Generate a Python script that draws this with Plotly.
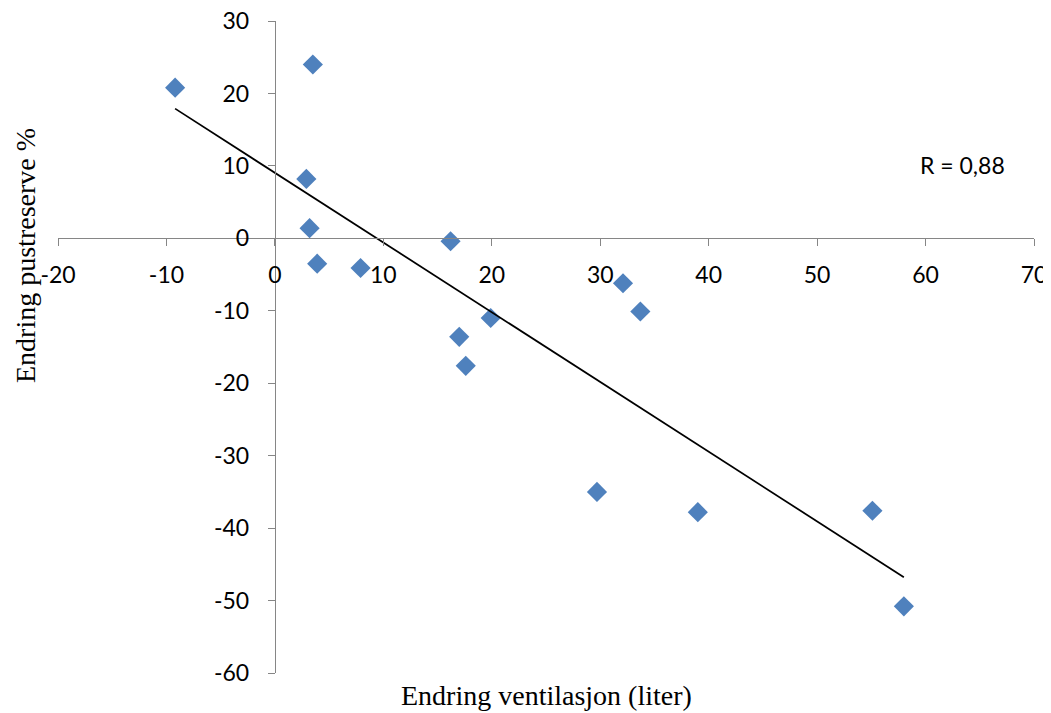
import numpy as np
import plotly.graph_objects as go

# Data
ventilasjon = [-9.2, 3.5, 2.9, 3.2, 3.9, 7.9, 16.2, 17.0, 17.6, 19.9, 29.7, 32.1, 33.7, 39.0, 55.1, 58.0]
pustreserve = [20.8, 24.0, 8.2, 1.4, -3.5, -4.1, -0.4, -13.6, -17.6, -11.0, -35.0, -6.2, -10.1, -37.8, -37.6, -50.8]
x_ticks = [-20, -10, 0, 10, 20, 30, 40, 50, 60, 70]
y_ticks = [-60, -50, -40, -30, -20, -10, 0, 10, 20, 30]
r_label = "R = 0,88"
x_title = "Endring ventilasjon (liter)"
y_title = "Endring pustreserve %"

xv = np.array(ventilasjon)
yv = np.array(pustreserve)
slope, intercept = np.polyfit(xv, yv, 1)
tx = np.array([xv.min(), xv.max()])
ty = slope * tx + intercept

AXIS = "#868686"
TICKFONT = dict(family="Lato, Open Sans, sans-serif", size=23, color="#000000")
SERIF = dict(family="Liberation Serif, Times New Roman, serif", size=28, color="#000000")

fig = go.Figure()
fig.add_trace(go.Scatter(
    x=ventilasjon, y=pustreserve, mode="markers",
    marker=dict(symbol="diamond", size=15.5, color="#4F81BD", line=dict(width=0)),
    showlegend=False, hoverinfo="x+y"))
fig.add_trace(go.Scatter(
    x=tx, y=ty, mode="lines", line=dict(color="#000000", width=1.75),
    showlegend=False, hoverinfo="skip"))

xr = [x_ticks[0], x_ticks[-1]]
yr = [y_ticks[0], y_ticks[-1]]

# the html page body has an 8px margin, so margins compensate for it
fig.update_layout(
    width=1051, height=713,
    margin=dict(l=50, r=25, t=13, b=48, autoexpand=False),
    paper_bgcolor="white", plot_bgcolor="white",
    xaxis=dict(range=xr, tickvals=x_ticks, ticktext=[str(v) for v in x_ticks],
               showgrid=False, zeroline=False, automargin=False,
               showline=True, linecolor=AXIS, linewidth=1.3,
               ticks="outside", ticklen=7, tickcolor=AXIS, tickwidth=1.3,
               anchor="free", position=(0 - yr[0]) / (yr[1] - yr[0]),
               tickfont=TICKFONT, ticklabelstandoff=9, ticklabeloverflow="allow"),
    yaxis=dict(range=yr, tickvals=y_ticks, ticktext=[str(v) for v in y_ticks],
               showgrid=False, zeroline=False, automargin=False,
               showline=True, linecolor=AXIS, linewidth=1.3,
               ticks="outside", ticklen=7, tickcolor=AXIS, tickwidth=1.3,
               anchor="free", position=(0 - xr[0]) / (xr[1] - xr[0]),
               tickfont=TICKFONT, ticklabelstandoff=14, ticklabeloverflow="allow"),
    annotations=[
        dict(text=x_title, xref="paper", yref="paper", x=0.5, y=-0.034,
             xanchor="center", yanchor="middle", showarrow=False, font=SERIF),
        dict(text=y_title, xref="paper", yref="paper", x=-0.0339, y=0.641,
             xanchor="center", yanchor="middle", textangle=-90, showarrow=False, font=SERIF),
        dict(text=r_label, xref="x", yref="y", x=63.4, y=10.1,
             xanchor="center", yanchor="middle", showarrow=False, font=TICKFONT),
    ],
)

fig.write_html("out.html")
